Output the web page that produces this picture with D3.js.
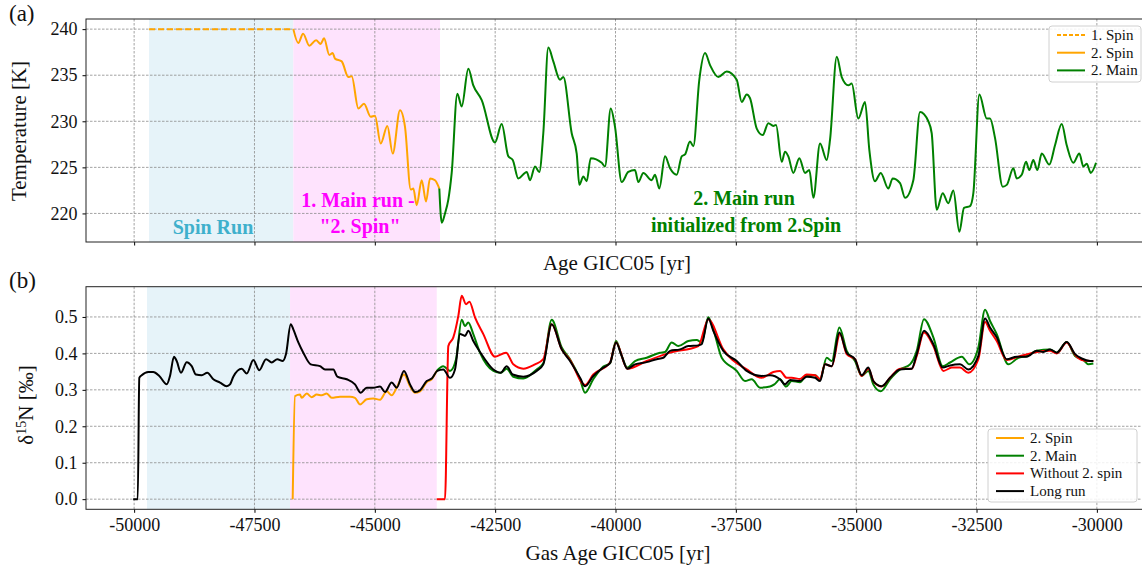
<!DOCTYPE html>
<html>
<head>
<meta charset="utf-8">
<script src="https://cdn.jsdelivr.net/npm/d3@7"></script>
<style>
  body { margin: 0; background: #fff; }
  text { font-family: "Liberation Serif", "DejaVu Serif", serif; fill: #111; }
  .tick text { font-size: 18px; font-family: "Liberation Serif", serif; }
  .grid line { stroke: #8c8c8c; stroke-width: 0.8; stroke-dasharray: 2.5 1.5; }
</style>
</head>
<body>
<svg id="chart" width="1142" height="577"></svg>
<script>
// ---- panel (a): temperature ----
let spin1Age = [-49690, -46693];
let spin1Temp = [240, 240];

let spin2TempAge = [-46693,-46590,-46490,-46360,-46220,-46125,-46055,-45945,-45875,-45827,-45688,-45551,-45480,-45343,-45225,-45085,-44996,-44878,-44740,-44628,-44477,-44373,-44254,-44200,-44130,-44026,-43936,-43853,-43750,-43660];
let spin2Temp = [240.0,238.5,239.5,238.2,238.8,238.4,239.0,237.2,237.4,236.8,236.5,234.8,234.9,231.4,231.9,230.5,230.6,227.6,229.5,226.5,231.2,229.4,222.6,222.7,220.9,223.6,221.3,223.8,223.6,222.7];

let mainTempAge = [-43660,-43610,-43542,-43473,-43403,-43286,-43195,-43058,-42954,-42779,-42503,-42364,-42227,-42135,-42019,-41844,-41776,-41672,-41583,-41500,-41396,-41292,-41153,-41084,-40910,-40806,-40752,-40668,-40598,-40515,-40286,-40218,-40099,-40010,-39871,-39734,-39595,-39526,-39422,-39248,-39179,-39090,-38971,-38867,-38728,-38624,-38556,-38452,-38383,-38259,-38140,-38036,-37864,-37689,-37482,-37378,-37274,-37205,-37066,-36942,-36825,-36721,-36665,-36547,-36478,-36410,-36306,-36181,-36063,-35973,-35890,-35751,-35612,-35543,-35404,-35300,-35163,-35093,-34956,-34816,-34727,-34609,-34490,-34332,-34241,-34089,-33985,-33813,-33674,-33501,-33431,-33327,-33202,-33086,-32982,-32857,-32760,-32635,-32566,-32441,-32288,-32219,-32116,-31956,-31872,-31735,-31665,-31561,-31471,-31403,-31320,-31237,-31145,-30988,-30869,-30730,-30626,-30489,-30364,-30281,-30211,-30127,-30017];
let mainTemp = [222.7,219.0,220.0,221.5,224.4,233.0,231.6,235.7,233.9,232.3,227.7,229.7,226.2,225.8,223.8,224.5,223.6,225.1,224.5,228.7,238.0,236.5,234.5,234.8,228.7,226.5,223.1,224.0,223.5,226.0,225.5,225.1,231.4,229.4,223.4,224.5,224.7,223.4,224.4,223.6,224.2,222.7,226.2,224.9,224.2,226.2,226.4,227.8,227.3,234.5,237.4,236.1,234.8,235.4,234.5,232.1,232.9,232.5,229.2,228.5,229.8,229.5,229.6,225.6,226.7,226.2,224.4,226.0,224.4,224.7,221.7,227.6,225.8,228.0,237.0,234.8,233.9,234.1,230.3,232.1,226.9,223.5,224.4,222.7,223.8,223.3,221.7,223.6,231.0,230.0,228.7,220.4,222.2,221.1,222.5,218.0,220.6,220.8,222.2,232.9,230.3,230.3,228.2,222.9,223.1,224.9,223.8,224.2,225.6,224.7,225.8,224.7,226.5,225.3,227.4,229.7,227.4,225.5,226.5,225.1,225.4,224.4,225.5];

// ---- panel (b): d15N ----
let spin2NAge = [-46706,-46658,-46554,-46519,-46415,-46311,-46207,-46103,-46000,-45896,-45723,-45515,-45412,-45308,-45169,-45031,-44892,-44753,-44649,-44545,-44394,-44269,-44165,-44061,-43922,-43818,-43714];
let spin2N = [0,0.283,0.287,0.278,0.290,0.280,0.287,0.285,0.290,0.278,0.281,0.281,0.278,0.260,0.274,0.276,0.273,0.296,0.285,0.306,0.342,0.310,0.292,0.296,0.321,0.329,0.352];

let mainNAge = [-43714,-43577,-43438,-43313,-43195,-43126,-43058,-42954,-42815,-42538,-42385,-42260,-42123,-41915,-41637,-41500,-41325,-41117,-40945,-40737,-40633,-40461,-40253,-40114,-39989,-39871,-39755,-39595,-39352,-39075,-38971,-38832,-38695,-38487,-38313,-38210,-38072,-37968,-37793,-37482,-37309,-37170,-36998,-36790,-36700,-36582,-36457,-36339,-36167,-36027,-35855,-35751,-35612,-35508,-35350,-35197,-35024,-34885,-34748,-34644,-34490,-34297,-34089,-33881,-33742,-33591,-33397,-33202,-33050,-32807,-32649,-32462,-32323,-32219,-32080,-31839,-31631,-31457,-31249,-30973,-30834,-30626,-30453,-30281,-30177,-30073];
let mainN = [0.352,0.365,0.352,0.384,0.492,0.475,0.485,0.453,0.402,0.352,0.347,0.358,0.336,0.331,0.356,0.373,0.492,0.416,0.384,0.329,0.292,0.329,0.364,0.373,0.434,0.393,0.361,0.379,0.388,0.402,0.404,0.430,0.420,0.434,0.437,0.430,0.499,0.466,0.388,0.352,0.324,0.329,0.306,0.309,0.315,0.329,0.309,0.324,0.321,0.340,0.340,0.329,0.388,0.379,0.471,0.407,0.379,0.338,0.352,0.315,0.296,0.329,0.356,0.370,0.407,0.494,0.444,0.365,0.375,0.391,0.370,0.416,0.520,0.489,0.453,0.370,0.388,0.393,0.407,0.411,0.402,0.431,0.393,0.382,0.370,0.372];

let noSpinNAge = [-43714,-43542,-43473,-43369,-43265,-43195,-43105,-43035,-42919,-42746,-42503,-42274,-42123,-41915,-41672,-41500,-41325,-41117,-40945,-40633,-40461,-40114,-39989,-39755,-39352,-38867,-38279,-38072,-37760,-37274,-36962,-36721,-36582,-36443,-36339,-36167,-36027,-35855,-35751,-35647,-35508,-35336,-35197,-35024,-34885,-34748,-34630,-34469,-34297,-34089,-33846,-33742,-33591,-33397,-33188,-33015,-32843,-32670,-32462,-32323,-32219,-32080,-31872,-31631,-31249,-30973,-30834,-30626,-30453,-30314,-30142,-30073];
let noSpinN = [0,0,0.420,0.444,0.503,0.558,0.535,0.542,0.499,0.453,0.391,0.402,0.370,0.358,0.370,0.384,0.480,0.411,0.382,0.313,0.342,0.375,0.430,0.358,0.379,0.402,0.420,0.493,0.411,0.356,0.333,0.349,0.352,0.333,0.333,0.330,0.342,0.340,0.330,0.370,0.365,0.453,0.398,0.384,0.338,0.358,0.321,0.309,0.333,0.358,0.358,0.393,0.457,0.420,0.352,0.361,0.361,0.347,0.384,0.486,0.462,0.434,0.382,0.391,0.404,0.407,0.400,0.430,0.396,0.382,0.379,0.379];

let longNAge = [-50020,-49925,-49893,-49843,-49706,-49602,-49477,-49323,-49255,-49172,-49116,-49026,-48908,-48804,-48715,-48596,-48480,-48355,-48216,-48077,-48008,-47940,-47765,-47661,-47524,-47400,-47260,-47142,-47026,-46914,-46845,-46747,-46693,-46589,-46486,-46332,-46139,-46035,-45862,-45779,-45584,-45412,-45293,-45169,-45031,-44892,-44788,-44649,-44545,-44394,-44269,-44165,-44061,-43922,-43818,-43702,-43577,-43438,-43334,-43230,-43126,-43058,-42954,-42815,-42538,-42385,-42260,-42135,-41915,-41637,-41500,-41325,-41117,-40945,-40737,-40633,-40461,-40253,-40114,-39989,-39871,-39755,-39595,-39352,-39144,-39007,-38867,-38660,-38487,-38279,-38210,-38072,-37968,-37760,-37482,-37274,-36962,-36790,-36582,-36478,-36374,-36167,-36027,-35855,-35751,-35647,-35508,-35350,-35197,-35024,-34885,-34748,-34644,-34469,-34297,-34089,-33846,-33742,-33591,-33397,-33202,-33050,-32843,-32670,-32462,-32323,-32219,-32080,-31872,-31665,-31457,-31249,-31112,-30973,-30834,-30626,-30453,-30314,-30142,-30073];
let longN = [0,0,0.333,0.340,0.349,0.349,0.338,0.315,0.338,0.391,0.379,0.347,0.376,0.365,0.342,0.340,0.347,0.329,0.320,0.310,0.315,0.336,0.358,0.345,0.382,0.354,0.384,0.375,0.384,0.379,0.398,0.480,0.466,0.430,0.402,0.370,0.365,0.356,0.356,0.336,0.329,0.315,0.292,0.306,0.306,0.309,0.294,0.320,0.306,0.352,0.315,0.294,0.299,0.324,0.331,0.352,0.356,0.333,0.356,0.453,0.448,0.462,0.434,0.404,0.356,0.347,0.365,0.342,0.336,0.352,0.370,0.480,0.411,0.379,0.333,0.310,0.338,0.361,0.373,0.430,0.393,0.358,0.370,0.376,0.384,0.388,0.407,0.411,0.420,0.422,0.425,0.496,0.462,0.407,0.379,0.352,0.338,0.340,0.329,0.315,0.327,0.324,0.336,0.333,0.324,0.370,0.365,0.457,0.402,0.384,0.340,0.361,0.324,0.310,0.333,0.356,0.358,0.398,0.462,0.425,0.361,0.367,0.370,0.356,0.393,0.496,0.471,0.444,0.384,0.391,0.391,0.407,0.404,0.411,0.402,0.431,0.398,0.386,0.379,0.379];

// shaded run phases [start, end]
let spinSpanA = [-49690, -46693], mainSpanA = [-46693, -43646];
let spinSpanB = [-49732, -46761], mainSpanB = [-46761, -43714];

let xTicks = [-50000, -47500, -45000, -42500, -40000, -37500, -35000, -32500, -30000];
let tTicks = [220, 225, 230, 235, 240];
let nTicks = [0, 0.1, 0.2, 0.3, 0.4, 0.5];

let svg = d3.select("#chart");
let left = 86, right = 1145;

let x = d3.scaleLinear().domain([-51000, -29000]).range([left, right]);
let yA = d3.scaleLinear().domain([216.9, 241.1]).range([242, 19]);
let yB = d3.scaleLinear().domain([-0.0278, 0.583]).range([509.3, 286.7]);

function pairs(xs, ys) { return xs.map((d, i) => [d, ys[i]]); }

function drawPanel(y, yTicks, yFmt, spans, xLabels) {
    let g = svg.append("g");
    let top = y.range()[1], bottom = y.range()[0];

    // shaded periods
    g.append("rect").attr("x", x(spans[0][0])).attr("width", x(spans[0][1]) - x(spans[0][0]))
        .attr("y", top).attr("height", bottom - top).style("fill", "#e6f3f9");
    g.append("rect").attr("x", x(spans[1][0])).attr("width", x(spans[1][1]) - x(spans[1][0]))
        .attr("y", top).attr("height", bottom - top).style("fill", "#fee3fd");

    // grid
    g.append("g").attr("class", "grid").selectAll("line").data(xTicks).join("line")
        .attr("x1", d => x(d)).attr("x2", d => x(d)).attr("y1", top).attr("y2", bottom);
    g.append("g").attr("class", "grid").selectAll("line").data(yTicks).join("line")
        .attr("x1", left).attr("x2", right).attr("y1", d => y(d)).attr("y2", d => y(d));

    // axes
    g.append("g").attr("transform", "translate(0," + bottom + ")")
        .call(d3.axisBottom(x).tickValues(xTicks).tickSize(3.5).tickPadding(5)
            .tickFormat(xLabels ? (d => d) : ""))
        .call(a => a.select(".domain").remove());
    g.append("g").attr("transform", "translate(" + left + ",0)")
        .call(d3.axisLeft(y).tickValues(yTicks).tickSize(3.5).tickPadding(5).tickFormat(yFmt))
        .call(a => a.select(".domain").remove());
    g.selectAll(".tick text").style("fill", "#111");

    g.append("rect").attr("x", left).attr("y", top).attr("width", right - left).attr("height", bottom - top)
        .style("fill", "none").style("stroke", "#222").style("stroke-width", 1);
    return g;
}

let line = (y) => d3.line().x(d => x(d[0])).y(d => y(d[1])).curve(d3.curveMonotoneX);

function addLine(g, y, data, color, dash) {
    g.append("path").datum(data).attr("d", line(y))
        .style("fill", "none").style("stroke", color).style("stroke-width", 2)
        .style("stroke-dasharray", dash || null);
}

function legend(items, bx, by, bw, bh, rowh) {
    let lg = svg.append("g").attr("transform", "translate(" + bx + "," + by + ")");
    lg.append("rect").attr("width", bw).attr("height", bh).attr("rx", 3)
        .style("fill", "rgba(255,255,255,0.85)").style("stroke", "#d0d0d0").style("stroke-width", 1);
    items.forEach(function(d, i) {
        let cy = 9 + i * rowh;
        lg.append("line").attr("x1", 8).attr("x2", 36).attr("y1", cy).attr("y2", cy)
            .style("stroke", d.color).style("stroke-width", 2).style("stroke-dasharray", d.dash || null);
        lg.append("text").attr("x", 42).attr("y", cy + 5).style("font-size", "15px").text(d.name);
    });
}

// ---- panel (a) ----
let ga = drawPanel(yA, tTicks, d3.format("d"), [spinSpanA, mainSpanA], false);
addLine(ga, yA, pairs(spin1Age, spin1Temp), "#ffa500", "6 3");
addLine(ga, yA, pairs(spin2TempAge, spin2Temp), "#ffa500");
addLine(ga, yA, pairs(mainTempAge, mainTemp), "#008000");

let anno = [
    {t: "Spin Run", x: 213, y: 234, c: "#3fb0cc"},
    {t: "1. Main run -", x: 358, y: 207, c: "#ff00ff"},
    {t: "\"2. Spin\"", x: 360, y: 233, c: "#ff00ff"},
    {t: "2. Main run", x: 744, y: 205, c: "#008000"},
    {t: "initialized from 2.Spin", x: 746, y: 231.5, c: "#008000"}
];
anno.forEach(function(d) {
    svg.append("text").attr("x", d.x).attr("y", d.y).attr("text-anchor", "middle")
        .style("font-size", "20px").style("font-weight", "bold").style("fill", d.c).text(d.t);
});

legend([
    {name: "1. Spin", color: "#ffa500", dash: "4 2"},
    {name: "2. Spin", color: "#ffa500"},
    {name: "2. Main", color: "#008000"}
], 1049, 26, 92, 56, 17.7);

// ---- panel (b) ----
let gb = drawPanel(yB, nTicks, d3.format(".1f"), [spinSpanB, mainSpanB], true);
addLine(gb, yB, pairs(spin2NAge, spin2N), "#ffa500");
addLine(gb, yB, pairs(mainNAge, mainN), "#008000");
addLine(gb, yB, pairs(noSpinNAge, noSpinN), "#ff0000");
addLine(gb, yB, pairs(longNAge, longN), "#000000");

legend([
    {name: "2. Spin", color: "#ffa500"},
    {name: "2. Main", color: "#008000"},
    {name: "Without 2. spin", color: "#ff0000"},
    {name: "Long run", color: "#000000"}
], 988, 429, 149, 73, 17.7);

// labels
svg.append("text").attr("x", 617).attr("y", 270).attr("text-anchor", "middle").style("font-size", "21px").text("Age GICC05 [yr]");
svg.append("text").attr("x", 618).attr("y", 560).attr("text-anchor", "middle").style("font-size", "21px").text("Gas Age GICC05 [yr]");
svg.append("text").attr("transform", "translate(26,131) rotate(-90)").attr("text-anchor", "middle")
    .style("font-size", "21px").text("Temperature [K]");
let yl = svg.append("text").attr("transform", "translate(33,405) rotate(-90)").attr("text-anchor", "middle").style("font-size", "21px");
yl.append("tspan").text("δ");
yl.append("tspan").attr("dy", -7).style("font-size", "14px").text("15");
yl.append("tspan").attr("dy", 7).text("N [‰]");

svg.append("text").attr("x", 9).attr("y", 21).style("font-size", "23px").text("(a)");
svg.append("text").attr("x", 9).attr("y", 288).style("font-size", "23px").text("(b)");
</script>
</body>
</html>
